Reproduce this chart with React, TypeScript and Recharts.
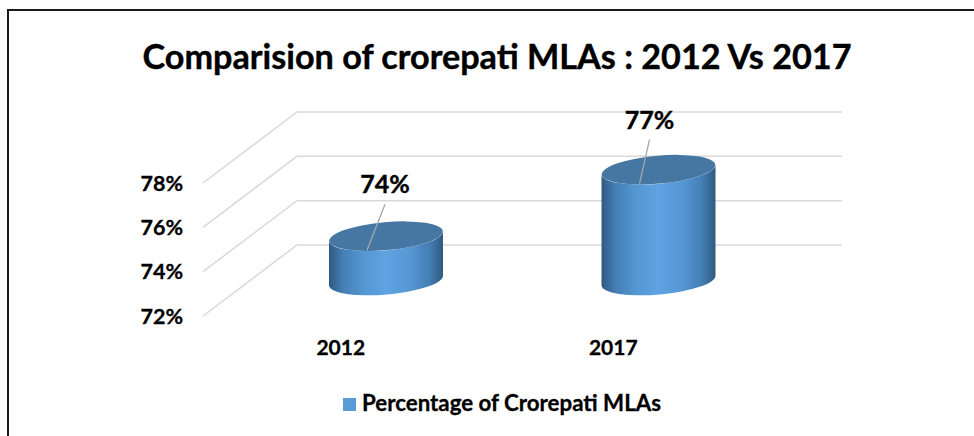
import { BarChart, Bar, XAxis, YAxis, CartesianGrid, Legend, LabelList } from 'recharts'

const YEARS = ['2012', '2017']
const CROREPATI_PCT = [74, 77]
const Y_TICKS = [72, 74, 76, 78]

const rows = YEARS.map((year, i) => ({ year, pct: CROREPATI_PCT[i] }))

const FONT = 'Lato, sans-serif'
const BLUE = '#5B9BD5'

// fake 3d: depth of the floor, bars stand half way in
const DEPTH_X = 94
const DEPTH_Y = 71
const RY = 14
const TILT = 5
const TILT_RISE = 5

// leader line ends were dragged by hand in the original
const LABEL_SHIFT = [
  { dx: -1, dy: -32 },
  { dx: -9, dy: -30 },
]

// Lato bold is a bit lighter than the original face, thicken it slightly
const tickStyle = { fontFamily: FONT, fontWeight: 700, fontSize: 21.5, fill: '#000', stroke: '#000', strokeWidth: 0.3 }

function GridLine(props: any) {
  const { x1, x2, y1, key } = props
  return (
    <path
      key={key}
      d={`M${x1} ${y1}L${x1 + DEPTH_X} ${y1 - DEPTH_Y}L${x2 + DEPTH_X} ${y1 - DEPTH_Y}`}
      fill="none"
      stroke="#D9D9D9"
      strokeWidth={1.5}
    />
  )
}

function Cylinder(props: any) {
  const { x, y, width, height } = props
  const rx = width / 2
  const cx = x + rx + DEPTH_X / 2
  const top = y - DEPTH_Y / 2
  const bottom = top + height
  const left = cx - rx
  const right = cx + rx
  const arc = `A${rx} ${RY} ${-TILT}`
  const body = [
    `M${left} ${top + TILT_RISE}`,
    `L${left} ${bottom + TILT_RISE}`,
    `${arc} 0 0 ${right} ${bottom - TILT_RISE}`,
    `L${right} ${top - TILT_RISE}`,
    `${arc} 0 1 ${left} ${top + TILT_RISE}`,
    'Z',
  ].join('')
  return (
    <g>
      <path d={body} fill="url(#cylinderSide)" />
      <ellipse cx={cx} cy={top} rx={rx} ry={RY} fill="#4677A3" transform={`rotate(${-TILT} ${cx} ${top})`} />
    </g>
  )
}

function LeaderLabel(props: any) {
  const { x, y, width, value, index } = props
  const cx = x + width / 2 + DEPTH_X / 2
  const top = y - DEPTH_Y / 2
  const shift = LABEL_SHIFT[index]
  return (
    <g>
      <line x1={cx - 19} y1={top + 14} x2={cx + shift.dx} y2={top + shift.dy} stroke="#A6A6A6" strokeWidth={1.3} />
      <text
        x={cx + shift.dx}
        y={top + shift.dy - 11}
        textAnchor="middle"
        fontFamily={FONT}
        fontWeight={700}
        fontSize={25}
        fill="#000"
        stroke="#000"
        strokeWidth={0.4}
      >
        {value}%
      </text>
    </g>
  )
}

export default function App() {
  return (
    <div style={{ position: 'absolute', left: 0, top: 0, width: 974, height: 436, background: '#fff', overflow: 'hidden' }}>
      <div
        style={{
          position: 'absolute',
          left: 7,
          top: 9,
          width: 980,
          height: 440,
          borderTop: '2px solid #1a1a1a',
          borderLeft: '2px solid #1a1a1a',
        }}
      />
      <div
        style={{
          position: 'absolute',
          left: 0,
          top: 36,
          width: 994,
          textAlign: 'center',
          fontFamily: FONT,
          fontWeight: 700,
          fontSize: 34.2,
          lineHeight: '40px',
          color: '#000',
          WebkitTextStroke: '0.4px #000',
        }}
      >
        Comparision of crorepati MLAs : 2012 Vs 2017
      </div>
      <BarChart
        width={974}
        height={436}
        data={rows}
        margin={{ top: 183, right: 226, bottom: 53, left: 143 }}
        style={{ position: 'absolute', left: 0, top: 0 }}
      >
        <defs>
          <linearGradient id="cylinderSide" x1="0" y1="0" x2="1" y2="0">
            <stop offset="0" stopColor="#2F5A80" />
            <stop offset="0.12" stopColor="#447EB4" />
            <stop offset="0.3" stopColor="#5596D2" />
            <stop offset="0.5" stopColor="#5FA3E3" />
            <stop offset="0.72" stopColor="#5596D2" />
            <stop offset="0.88" stopColor="#447EB4" />
            <stop offset="1" stopColor="#2F5A80" />
          </linearGradient>
        </defs>
        <CartesianGrid vertical={false} horizontal={GridLine} />
        <XAxis
          dataKey="year"
          axisLine={false}
          tickLine={false}
          tickSize={0}
          tickMargin={24}
          height={40}
          interval={0}
          dx={1.5}
          tick={{ ...tickStyle, fontSize: 21 }}
        />
        <YAxis
          domain={[72, 78]}
          ticks={Y_TICKS}
          width={60}
          interval={0}
          axisLine={false}
          tickLine={false}
          tickSize={0}
          tickMargin={20}
          tickFormatter={(v) => `${v}%`}
          tick={tickStyle}
        />
        <Legend
          iconType="square"
          iconSize={13}
          align="left"
          verticalAlign="bottom"
          formatter={(v) => (
            <span
              style={{
                color: '#000',
                fontFamily: FONT,
                fontWeight: 700,
                fontSize: 22.3,
                marginLeft: 2,
                position: 'relative',
                top: 3,
                WebkitTextStroke: '0.3px #000',
              }}
            >
              {v}
            </span>
          )}
          wrapperStyle={{ left: 343, bottom: 23, width: 360 }}
        />
        <Bar
          dataKey="pct"
          name="Percentage of Crorepati MLAs"
          fill={BLUE}
          barSize={114}
          shape={Cylinder}
          isAnimationActive={false}
        >
          <LabelList dataKey="pct" content={LeaderLabel} />
        </Bar>
      </BarChart>
    </div>
  )
}
